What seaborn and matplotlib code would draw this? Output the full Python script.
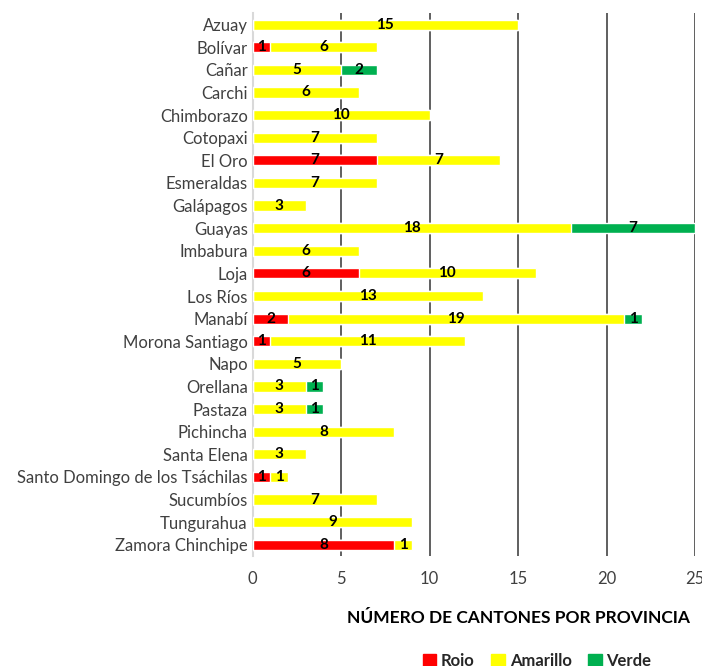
import numpy as np
import pandas as pd
import matplotlib.pyplot as plt
import seaborn as sns
from matplotlib.patches import Patch

provincias = [
    "Azuay", "Bolívar", "Cañar", "Carchi", "Chimborazo", "Cotopaxi", "El Oro",
    "Esmeraldas", "Galápagos", "Guayas", "Imbabura", "Loja", "Los Ríos", "Manabí",
    "Morona Santiago", "Napo", "Orellana", "Pastaza", "Pichincha", "Santa Elena",
    "Santo Domingo de los Tsáchilas", "Sucumbíos", "Tungurahua", "Zamora Chinchipe",
]
rojo = [0, 1, 0, 0, 0, 0, 7, 0, 0, 0, 0, 6, 0, 2, 1, 0, 0, 0, 0, 0, 1, 0, 0, 8]
amarillo = [15, 6, 5, 6, 10, 7, 7, 7, 3, 18, 6, 10, 13, 19, 11, 5, 3, 3, 8, 3, 1, 7, 9, 1]
verde = [0, 0, 2, 0, 0, 0, 0, 0, 0, 7, 0, 0, 0, 1, 0, 0, 1, 1, 0, 0, 0, 0, 0, 0]

RED = "#ff0000"
YELLOW = "#ffff00"
GREEN = "#00b050"

sns.set_theme(style="white")
plt.rcParams["font.family"] = ["Lato", "DejaVu Sans"]

df = pd.DataFrame({"provincia": provincias, "rojo": rojo, "amarillo": amarillo, "verde": verde})
df["r"] = df["rojo"]
df["ra"] = df["rojo"] + df["amarillo"]
df["rav"] = df["ra"] + df["verde"]

fig = plt.figure(figsize=(7.02, 6.66), dpi=100)
ax = fig.add_axes([0.36, 0.165, 0.63, 0.815])

# stacked bars: draw cumulative totals from back to front
for col, color in [("rav", GREEN), ("ra", YELLOW), ("r", RED)]:
    sns.barplot(data=df, y="provincia", x=col, color=color, orient="h",
                width=0.45, saturation=1, ax=ax, zorder=3)

# segment labels
for i, row in df.iterrows():
    start = 0
    for col in ["rojo", "amarillo", "verde"]:
        v = row[col]
        if v > 0:
            ax.text(start + v / 2, i, str(v), ha="center", va="center",
                    fontsize=11, fontweight="bold", color="black", zorder=5)
        start += v

ax.set_xlim(0, 25)
ax.set_ylim(len(df) - 0.5, -0.5)
ax.set_xticks([0, 5, 10, 15, 20, 25])
for xv in [5, 10, 15, 20, 25]:
    ax.axvline(xv, color="#444444", linewidth=1.2, zorder=1)
for s in ["top", "right", "bottom"]:
    ax.spines[s].set_visible(False)
ax.spines["left"].set_color("#d9d9d9")
ax.spines["left"].set_linewidth(1.5)
ax.tick_params(axis="both", length=0, labelsize=12, colors="#404040")
ax.tick_params(axis="x", pad=11)
ax.set_ylabel("")
ax.set_xlabel("NÚMERO DE CANTONES POR PROVINCIA", fontsize=12.5, fontweight="bold",
              color="black")
ax.xaxis.set_label_coords(0.6, -0.1)

handles = [Patch(color=RED, label="Rojo"), Patch(color=YELLOW, label="Amarillo"),
           Patch(color=GREEN, label="Verde")]
leg = fig.legend(handles=handles, loc="center", bbox_to_anchor=(0.765, 0.008), ncol=3,
                 frameon=False, handlelength=0.8, handleheight=0.8, handletextpad=0.3,
                 columnspacing=1.0, prop={"weight": "bold", "size": 12})

fig.savefig("out.png", dpi=100)
